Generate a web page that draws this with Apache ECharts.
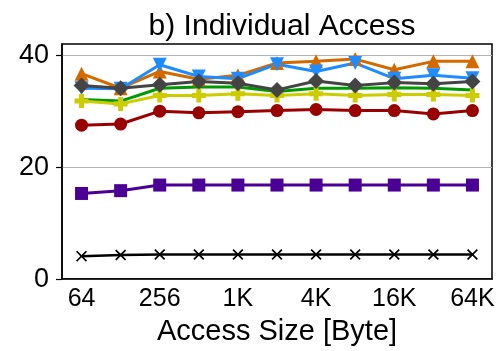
<!DOCTYPE html>
<html>
<head>
<meta charset="utf-8">
<script src="https://cdn.jsdelivr.net/npm/echarts@6/dist/echarts.min.js"></script>
<style>
  html, body { margin: 0; padding: 0; background: #fff; }
  #chart { width: 499px; height: 351px; }
</style>
</head>
<body>
<div id="chart"></div>
<script>
// Access sizes (bytes) on the x axis
const sizes = ['64', '128', '256', '512', '1K', '2K', '4K', '8K', '16K', '32K', '64K'];
const yTicks = [0, 20, 40];

// Throughput per access size, one array per configuration
const seriesOrange = [36.7, 34.1, 37.1, 35.7, 36.4, 38.6, 38.9, 39.3, 37.4, 38.9, 38.9];
const seriesBlue   = [34.1, 34.0, 38.3, 36.2, 35.8, 38.4, 37.1, 38.6, 35.8, 36.4, 35.9];
const seriesGreen  = [32.1, 31.8, 34.1, 34.3, 34.3, 33.5, 34.1, 34.1, 34.2, 34.1, 33.8];
const seriesYellow = [31.8, 31.3, 32.8, 32.8, 33.1, 32.8, 33.1, 32.8, 33.0, 33.0, 32.8];
const seriesGray   = [34.6, 34.1, 34.7, 35.3, 35.0, 33.8, 35.4, 34.6, 35.1, 34.9, 35.3];
const seriesRed    = [27.5, 27.7, 30.0, 29.7, 29.9, 30.1, 30.3, 30.1, 30.1, 29.5, 30.1];
const seriesPurple = [15.3, 15.8, 16.8, 16.8, 16.8, 16.8, 16.8, 16.8, 16.8, 16.8, 16.8];
const seriesBlack  = [4.1, 4.3, 4.4, 4.4, 4.4, 4.4, 4.4, 4.4, 4.4, 4.4, 4.4];

const plusPath = 'path://M3.2,0H6.8V3.2H10V6.8H6.8V10H3.2V6.8H0V3.2H3.2Z';
const crossPath = 'path://M0,1.1L1.1,0L5,3.9L8.9,0L10,1.1L6.1,5L10,8.9L8.9,10L5,6.1L1.1,10L0,8.9L3.9,5Z';

function line(data, color, symbol, size, extra) {
  return Object.assign({
    type: 'line',
    data: data,
    symbol: symbol,
    symbolSize: size,
    showSymbol: symbol !== 'none',
    lineStyle: { color: color, width: 3 },
    itemStyle: { color: color, opacity: 1 },
    animation: false,
    emphasis: { disabled: true }
  }, extra || {});
}

const chart = echarts.init(document.getElementById('chart'), null, { renderer: 'canvas' });
chart.setOption({
  backgroundColor: '#fff',
  textStyle: { fontFamily: 'Liberation Sans, Arial, sans-serif' },
  title: {
    text: 'b) Individual Access',
    left: 277,
    textAlign: 'center',
    top: 7,
    textStyle: { fontSize: 30, fontWeight: 'normal', color: '#000', fontFamily: 'Liberation Sans' }
  },
  grid: {
    left: 62, right: 7, top: 44, bottom: 71,
    show: true, borderColor: '#000', borderWidth: 1.5, backgroundColor: 'transparent'
  },
  xAxis: {
    type: 'category',
    data: sizes,
    boundaryGap: true,
    name: 'Access Size [Byte]',
    nameLocation: 'middle',
    nameGap: 30,
    nameTextStyle: { fontSize: 29, color: '#000', fontFamily: 'Liberation Sans' },
    axisLine: { lineStyle: { color: '#000', width: 1.5 } },
    axisTick: { interval: 1, alignWithLabel: true, length: 6, lineStyle: { color: '#000', width: 1.2 } },
    axisLabel: { interval: 1, fontSize: 25, color: '#000', margin: 8, fontFamily: 'Liberation Sans' },
    splitLine: { show: false }
  },
  yAxis: {
    type: 'value',
    min: 0,
    max: 42,
    interval: 20,
    axisLine: { show: true, lineStyle: { color: '#000', width: 1.5 } },
    axisTick: { show: true, length: 6, customValues: yTicks, lineStyle: { color: '#000', width: 1.2 } },
    axisLabel: { fontSize: 27, color: '#000', margin: 13, customValues: yTicks, fontFamily: 'Liberation Sans' },
    splitLine: { show: true, lineStyle: { color: '#b4b4b4', width: 1.2 } }
  },
  series: [
    line(seriesBlack, '#000000', crossPath, 11, { lineStyle: { color: '#000', width: 2.5 } }),
    line(seriesPurple, '#4b0095', 'rect', 13),
    line(seriesRed, '#990000', 'circle', 13),
    line(seriesOrange, '#d26a00', 'triangle', 14),
    line(seriesBlue, '#1e8cff', 'triangle', 14, { symbolRotate: 180 }),
    line(seriesGreen, '#009a00', 'none', 0),
    line(seriesYellow, '#cccc00', plusPath, 14),
    line(seriesGray, '#444444', 'diamond', 16)
  ]
});
</script>
</body>
</html>
